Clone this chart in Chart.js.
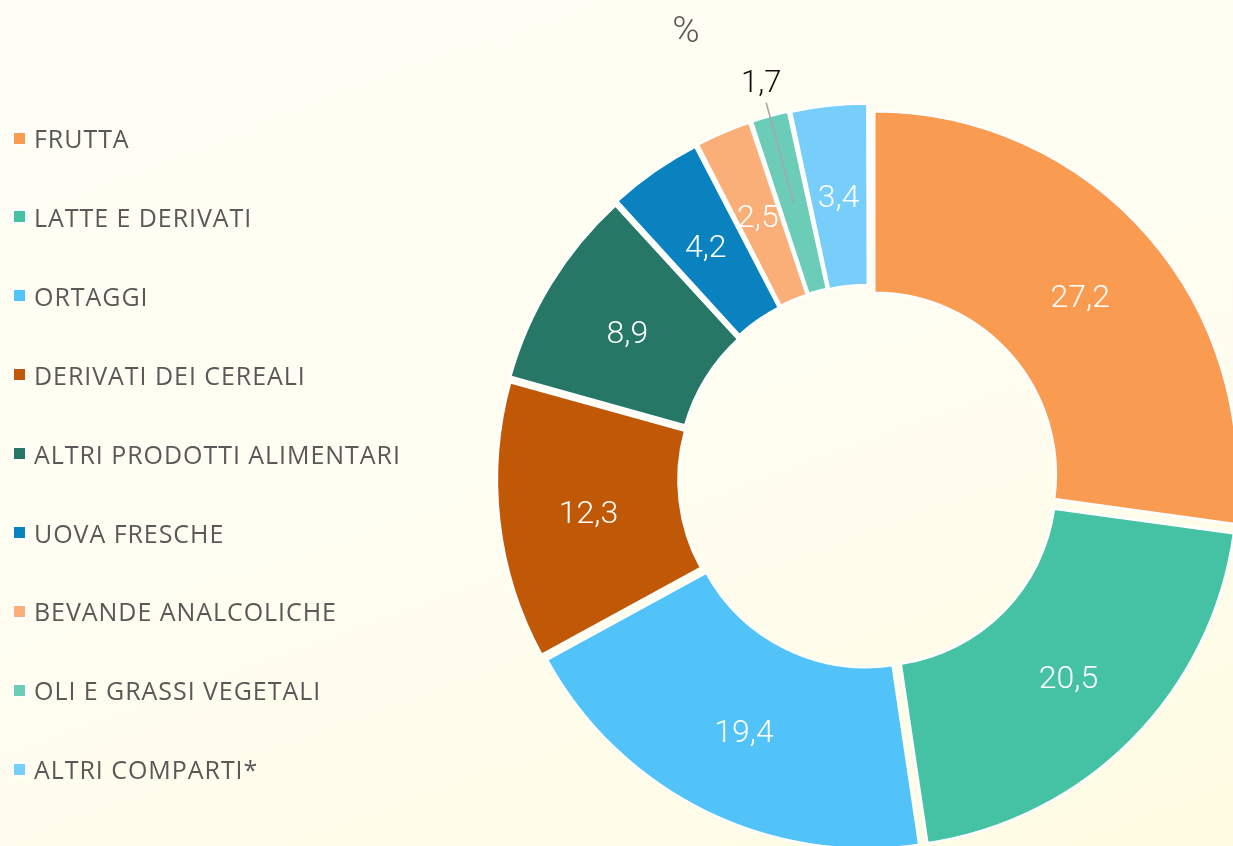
<!DOCTYPE html>
<html>
<head>
<meta charset="utf-8">
<script src="https://cdn.jsdelivr.net/npm/chart.js@4.4.1/dist/chart.umd.min.js"></script>
<style>
  html, body { margin: 0; padding: 0; width: 1233px; height: 846px; overflow: hidden; }
  body {
    position: relative;
    background: linear-gradient(160deg, #fffef5 0%, #fffdf0 55%, #fffbe2 100%);
    font-family: 'Open Sans', 'Noto Sans', sans-serif;
  }
  #chart { position: absolute; left: 0; top: 0; }
  .item { position: absolute; left: 12px; height: 30px; display: flex; align-items: center;
          color: #595959; font-size: 25px; letter-spacing: 0.95px; white-space: nowrap; }
  .sw { width: 11px; height: 11px; border: 2px solid #ffffff; margin-right: 7px; flex: none; }
  #unit { position: absolute; left: 656px; top: 7px; width: 60px; text-align: center;
          font-family: Roboto, sans-serif; font-weight: 300; font-size: 37px; color: #595959; line-height: 46px; }
</style>
</head>
<body>
<canvas id="chart" width="1233" height="846"></canvas>
<div id="legend"></div>
<div id="unit">%</div>
<script>
// ---- data ----
const categories = [
  'FRUTTA',
  'LATTE E DERIVATI',
  'ORTAGGI',
  'DERIVATI DEI CEREALI',
  'ALTRI PRODOTTI ALIMENTARI',
  'UOVA FRESCHE',
  'BEVANDE ANALCOLICHE',
  'OLI E GRASSI VEGETALI',
  'ALTRI COMPARTI*'
];
const shares = [27.2, 20.5, 19.4, 12.3, 8.9, 4.2, 2.5, 1.7, 3.4];
const palette = ['#f99b50', '#45c2a4', '#52c3f8', '#c05805', '#277766', '#0a82c0', '#faaf78', '#6bcdb7', '#77cefa'];
const unitLabel = '%';

// ---- legend (HTML) ----
const legend = document.getElementById('legend');
categories.forEach((name, i) => {
  const row = document.createElement('div');
  row.className = 'item';
  row.style.top = (138 + i * 78.9 - 15) + 'px';
  const sw = document.createElement('span');
  sw.className = 'sw';
  sw.style.background = palette[i];
  const tx = document.createElement('span');
  tx.textContent = name;
  row.appendChild(sw);
  row.appendChild(tx);
  legend.appendChild(row);
});
document.getElementById('unit').textContent = unitLabel;

const fmt = v => v.toFixed(1).replace('.', ',');

// ---- slice labels plugin ----
const sliceLabels = {
  id: 'sliceLabels',
  afterDatasetsDraw(chart) {
    const ctx = chart.ctx;
    const meta = chart.getDatasetMeta(0);
    ctx.save();
    ctx.font = '300 32px Roboto';
    ctx.textAlign = 'center';
    ctx.textBaseline = 'middle';
    meta.data.forEach((arc, i) => {
      const p = arc.getProps(['x', 'y', 'startAngle', 'endAngle', 'innerRadius', 'outerRadius']);
      const mid = (p.startAngle + p.endAngle) / 2;
      const circ = p.endAngle - p.startAngle;
      const off = (arc.options.offset || 0) / 4;
      const fix = 1 - Math.sin(Math.min(Math.PI, circ));
      const shift = off + off * fix;
      const cx = Math.cos(mid), cy = Math.sin(mid);
      const rMid = (p.innerRadius + p.outerRadius) / 2 + shift;
      const txt = fmt(shares[i]);
      if (shares[i] < 2) {
        const r1 = p.outerRadius + 27;
        const r2 = p.outerRadius + 46;
        ctx.strokeStyle = '#a6a6a6';
        ctx.lineWidth = 1.5;
        ctx.beginPath();
        ctx.moveTo(p.x + cx * rMid, p.y + cy * rMid);
        ctx.lineTo(p.x + cx * r1, p.y + cy * r1);
        ctx.stroke();
        ctx.fillStyle = '#0d0d0d';
        ctx.font = '300 31px Roboto';
        ctx.fillText(txt, p.x + cx * r2, p.y + cy * r2);
        ctx.font = '300 32px Roboto';
      } else {
        ctx.fillStyle = '#ffffff';
        ctx.fillText(txt, p.x + cx * (rMid + 1), p.y + cy * (rMid + 1) + 4);
      }
    });
    ctx.restore();
  }
};

new Chart(document.getElementById('chart'), {
  type: 'doughnut',
  data: {
    labels: categories,
    datasets: [{
      data: shares,
      backgroundColor: palette,
      borderColor: '#ffffff',
      borderWidth: 2.5,
      offset: 28,
      hoverOffset: 0,
      radius: 363,
      cutout: '50%'
    }]
  },
  options: {
    responsive: false,
    animation: false,
    radius: 363,
    cutout: '50%',
    events: [],
    layout: { padding: { left: 505, right: 0, top: 112, bottom: 0 } },
    plugins: { legend: { display: false }, tooltip: { enabled: false }, title: { display: false } }
  },
  plugins: [sliceLabels]
});
</script>
</body>
</html>
